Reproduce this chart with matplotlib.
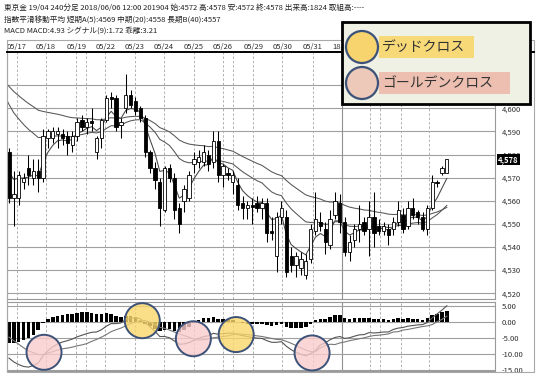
import matplotlib
matplotlib.use("Agg")
import matplotlib.pyplot as plt
import matplotlib.transforms as mtransforms
from matplotlib.patches import Rectangle, Ellipse
from matplotlib.lines import Line2D
import numpy as np

plt.rcParams['font.family'] = ['Noto Sans CJK JP', 'DejaVu Sans']

W, H = 546, 381

# ---------------- data ----------------
opens = [4581, 4561, 4561, 4568, 4574, 4570, 4573, 4570, 4587, 4587,
         4589, 4589, 4588, 4584, 4588, 4595, 4592, 4594.5, 4581, 4587,
         4595, 4605, 4604.5, 4593, 4600, 4606, 4603, 4600, 4596, 4581,
         4574, 4568, 4556, 4574, 4570, 4557, 4560, 4561, 4576, 4577,
         4577, 4580, 4577, 4586, 4571, 4572, 4568, 4567, 4559, 4557,
         4558, 4559, 4557, 4559, 4547, 4536, 4553, 4553, 4536, 4532,
         4531, 4528, 4535, 4547, 4551, 4548, 4541, 4554, 4559, 4551,
         4538, 4543, 4548, 4551, 4548, 4553, 4549, 4547, 4548, 4548,
         4551, 4554, 4549, 4557, 4555, 4553, 4548, 4557, 4568, 4572,
         4572]
highs = [4583, 4573, 4573, 4572, 4580, 4578, 4578, 4591, 4591, 4592,
         4592, 4591, 4590, 4590, 4596, 4597, 4596, 4600, 4588, 4596,
         4606, 4607, 4606, 4596, 4615, 4608, 4605, 4601, 4597, 4582,
         4577, 4570, 4575, 4576, 4572, 4559, 4567, 4573, 4581, 4582,
         4584, 4582, 4590, 4590, 4576, 4574, 4573, 4570, 4562, 4560,
         4561, 4562, 4561, 4561, 4553, 4555, 4560, 4556, 4540, 4538,
         4538, 4537, 4550, 4564, 4555, 4551, 4556, 4564, 4563, 4553,
         4545, 4550, 4558, 4553, 4560, 4564, 4552, 4551, 4550, 4553,
         4560, 4557, 4560, 4561, 4556, 4555, 4558, 4571, 4569, 4575,
         4578]
lows = [4559, 4549, 4558, 4565, 4567, 4567, 4564, 4568, 4583, 4585,
        4583, 4584, 4580, 4581, 4586, 4590, 4589, 4590, 4578, 4583,
        4594, 4600, 4590, 4587, 4598, 4600, 4597, 4594, 4579, 4572,
        4565, 4549, 4555, 4568, 4552, 4546, 4555, 4560, 4572, 4574,
        4575, 4573, 4574, 4568, 4566, 4569, 4563, 4556, 4552, 4552,
        4550, 4555, 4552, 4542, 4543, 4529, 4550, 4527, 4529, 4527,
        4528, 4526, 4533, 4545, 4547, 4537, 4539, 4552, 4546, 4536,
        4534, 4540, 4542, 4545, 4536, 4540, 4545, 4545, 4541, 4545,
        4549, 4546, 4548, 4552, 4550, 4547, 4545, 4556, 4566, 4571,
        4572]
closes = [4561, 4563, 4571, 4570, 4571, 4573, 4570, 4588, 4590, 4590,
          4590, 4587, 4585, 4588, 4594, 4592, 4594, 4593.5, 4587, 4595,
          4604.5, 4604, 4592, 4594, 4606, 4601.5, 4599, 4596, 4581, 4574,
          4569, 4557, 4574, 4570, 4556, 4550, 4565, 4571, 4578, 4579,
          4581, 4576, 4586, 4571, 4575, 4571, 4571, 4558, 4557, 4558,
          4557.5, 4557, 4559, 4546, 4546, 4553, 4557, 4529, 4532, 4536,
          4535, 4534, 4548, 4552, 4549, 4542, 4552, 4560, 4551, 4538,
          4542, 4548, 4550, 4547, 4553, 4546, 4547, 4549, 4545, 4551,
          4556, 4548, 4557, 4554, 4553, 4548, 4557, 4568, 4567.5, 4574,
          4578]

# moving-average settings and their values just before the first visible bar
ema_periods = [5, 20, 40]
ema_seeds = [4578, 4606, 4612]

# MACD line and histogram (乖離)
macd_line = [-11.3, -12.5, -13.3, -13.9, -14.1, -13.6, -12.8, -10.6, -9.0, -7.8,
             -6.9, -6.3, -5.9, -5.4, -4.7, -4.2, -3.7, -3.3, -3.2, -2.5,
             -1.4, -0.6, -0.6, -0.4, 0.6, 1.1, 1.2, 0.9, -0.3, -1.6,
             -3.0, -4.6, -4.6, -5.0, -6.0, -7.0, -6.9, -6.5, -5.8, -5.2,
             -4.6, -4.4, -3.6, -3.9, -3.7, -3.6, -3.5, -4.0, -4.3, -4.6,
             -4.9, -5.1, -5.2, -5.9, -6.4, -6.4, -6.2, -7.6, -8.7, -9.5,
             -10.1, -10.6, -9.9, -8.9, -7.2, -6.6, -5.6, -4.9, -4.6, -5.2,
             -5.0, -4.5, -4.1, -4.0, -3.4, -3.5, -3.4, -3.2, -3.2, -2.4,
             -2.0, -1.8, -1.4, -1.2, -1.0, -0.9, -0.3, 1.2, 2.4, 3.6,
             4.93]
macd_hist = [-6.5, -6.6, -6.3, -5.8, -5.0, -4.0, -2.6, -0.4, 0.8, 1.5,
             1.9, 2.1, 2.3, 2.5, 2.8, 3.0, 3.1, 2.8, 2.3, 2.3,
             2.6, 2.5, 1.9, 1.6, 1.9, 1.7, 1.3, 0.5, -0.6, -1.4,
             -2.2, -2.9, -2.5, -2.4, -2.8, -3.2, -2.6, -1.7, -0.4, 0.5,
             1.0, 1.0, 1.4, 0.9, 0.9, 0.8, 0.5, -0.2, -0.4, -0.6,
             -0.7, -0.7, -0.6, -1.0, -1.2, -0.9, -0.6, -1.5, -2.0, -2.1,
             -2.0, -1.8, -0.6, 0.4, 0.9, 0.8, 1.4, 2.2, 2.0, 1.1,
             0.9, 1.1, 1.2, 1.0, 1.2, 0.8, 0.8, 0.8, 0.6, 0.8,
             1.1, 0.8, 1.0, 0.9, 0.8, 0.6, 1.0, 2.1, 2.4, 2.9,
             3.21]

# day separators (bar-index positions) and labels
date_pos = [1.6, 7.6, 13.8, 19.8, 25.9, 31.9, 38.0, 44.0, 50.2, 56.2, 62.4, 68.5, 74.3, 80.5, 86.4]
date_labels = ["05/17", "05/18", "05/19", "05/22", "05/23", "05/24", "05/25", "05/26",
               "05/29", "05/30", "05/31", "18/06"]
extra_vlines = [15.8, 46.1, 76.3]

price_ticks = [4520, 4530, 4540, 4550, 4560, 4570, 4580, 4590, 4600, 4610]
macd_ticks = [5, 0, -5, -10, -15]
last_price = 4578

# crosses marked on the MACD panel
cross_idx = [7.2, 27.4, 37.9, 46.7, 62.3]
cross_val = [-9.5, 0.3, -5.3, -4.0, -9.7]
cross_kind = ["golden", "dead", "golden", "dead", "golden"]

header_lines = [
    "東京金 19/04 240分足 2018/06/06 12:00 201904 始:4572 高:4578 安:4572 終:4578 出来高:1824 取組高:----",
    "指数平滑移動平均 短期A(5):4569 中期(20):4558 長期B(40):4557",
    "MACD MACD:4.93 シグナル(9):1.72 乖離:3.21",
]
legend_labels = ["デッドクロス", "ゴールデンクロス"]

# ---------------- derived series ----------------
o = np.array(opens, float); h = np.array(highs, float)
l = np.array(lows, float); c = np.array(closes, float)
N = len(c)
idx = np.arange(N)
xline = np.arange(-1, N)


def ema(values, n, seed):
    a = 2.0 / (n + 1)
    e = seed
    out = [seed]
    for v in values:
        e = e + a * (v - e)
        out.append(e)
    return np.array(out)


emas = [ema(c, n, s) for n, s in zip(ema_periods, ema_seeds)]
macd = np.array(macd_line, float)
hist = np.array(macd_hist, float)
signal = macd - hist

# ---------------- figure ----------------
fig = plt.figure(figsize=(W / 100, H / 100), dpi=100)
fig.patch.set_facecolor("white")


def px(left, top, right, bottom):
    return [left / W, 1 - bottom / H, (right - left) / W, (bottom - top) / H]


def fx(x):
    return x / W


def fy(y):
    return 1 - y / H


grid_c = "#a0a0a0"
txt_c = "#2e2e2e"
fs_small = 5.5

ax = fig.add_axes(px(7, 52, 495, 299))
axm = fig.add_axes(px(7, 302, 495, 371), sharex=ax)
axd = fig.add_axes(px(7, 40, 495, 52), sharex=ax)

ax.set_xlim(-0.41, 99.9)
ax.set_ylim(4517.5, 4624.4)
axm.set_ylim(-15.3, 6.1)

# ---- main price panel
for yv in price_ticks:
    ax.axhline(yv, color=grid_c, lw=0.8, zorder=0)
for xv in date_pos + extra_vlines:
    ax.axvline(xv, color="#b0b0b0", lw=0.7, ls=(0, (2.5, 2)), zorder=0)
    axm.axvline(xv, color="#b0b0b0", lw=0.7, ls=(0, (2.5, 2)), zorder=0)
ax.axvline(date_pos[11], color="#909090", lw=0.8, zorder=0)
axm.axvline(date_pos[11], color="#909090", lw=0.8, zorder=0)

for e, col in zip(emas, ["#444444", "#555555", "#555555"]):
    ax.plot(xline, e, color=col, lw=0.75, zorder=2)

ax.vlines(idx, l, h, color="black", lw=0.75, zorder=3)
up = c >= o
body_bottom = np.minimum(o, c)
body_h = np.maximum(np.abs(c - o), 0.45)
ax.bar(idx, body_h, bottom=body_bottom, width=0.68,
       color=np.where(up, "white", "black"), edgecolor="black",
       linewidth=0.6, zorder=4)

ax.yaxis.tick_right()
ax.set_yticks(price_ticks)
ax.set_yticklabels([f"{v:,}" for v in price_ticks])
ax.tick_params(axis="y", length=0, pad=5, labelsize=fs_small, labelcolor=txt_c)
ax.tick_params(axis="x", bottom=False, labelbottom=False)
for s in ["left", "right", "bottom"]:
    ax.spines[s].set_color("#999999")
    ax.spines[s].set_linewidth(0.8)
ax.spines["top"].set_visible(False)

tr = mtransforms.blended_transform_factory(ax.transAxes, ax.transData)
ax.text(1.0 + 3 / 488, last_price, f"{last_price:,}", transform=tr, ha="left",
        va="center", color="white", fontsize=fs_small, fontweight="bold",
        bbox=dict(boxstyle="square,pad=0.15", fc="black", ec="none"), zorder=6)

# ---- MACD panel
for yv in macd_ticks:
    axm.axhline(yv, color=grid_c, lw=0.8, zorder=0)
axm.bar(idx, hist, width=0.72, color="black", zorder=2)
axm.plot(idx, macd, color="#555555", lw=0.8, zorder=3)
axm.plot(idx, signal, color="#777777", lw=0.8, zorder=3)

face = {"golden": (0.98, 0.80, 0.80, 0.8), "dead": (0.98, 0.84, 0.42, 0.8)}
size_pt = 35 * 72 / 100
axm.scatter(cross_idx, cross_val, s=size_pt ** 2,
            facecolors=[face[k] for k in cross_kind],
            edgecolors="#3D5278", linewidths=1.4, zorder=5, clip_on=False)

axm.yaxis.tick_right()
axm.set_yticks(macd_ticks)
axm.set_yticklabels([f"{v:.2f}" for v in macd_ticks])
axm.tick_params(axis="y", length=0, pad=5, labelsize=fs_small, labelcolor=txt_c)
axm.tick_params(axis="x", bottom=False, labelbottom=False)
for s in axm.spines.values():
    s.set_color("#999999")
    s.set_linewidth(0.8)

# ---- date strip
axd.set_ylim(0, 1)
axd.set_yticks([])
axd.tick_params(axis="x", bottom=False, labelbottom=False)
for s in axd.spines.values():
    s.set_visible(False)
trd = mtransforms.blended_transform_factory(axd.transData, axd.transAxes)
for p, lab in zip(date_pos, date_labels):
    axd.text(p, 0.45, lab, transform=trd, ha="center", va="center",
             fontsize=fs_small, color=txt_c)

# ---- frame lines
fig.add_artist(Rectangle((fx(7), fy(372)), fx(534) - fx(7), fy(40) - fy(372),
                         transform=fig.transFigure, fill=False, ec="#a8a8a8", lw=0.8, zorder=3))
fig.add_artist(Line2D([fx(7), fx(534)], [fy(52), fy(52)], transform=fig.transFigure,
                      color="black", lw=1.4, zorder=3))

# ---- header
for k, line in enumerate(header_lines):
    fig.text(fx(4), fy(8 + 11.5 * k), line, fontsize=5.5, color="#222222",
             ha="left", va="center")

# ---- legend box
fig.add_artist(Rectangle((fx(342), fy(104)), fx(530) - fx(342), fy(22) - fy(104),
                         transform=fig.transFigure, fc="#EEF1E3", ec="black", lw=2.0, zorder=10))
leg_cols = [(0.97, 0.83, 0.43), (0.93, 0.79, 0.73)]
txt_bg = [(0.97, 0.85, 0.47), (0.93, 0.75, 0.69)]
leg_y = [47, 83]
bg_right = [474, 510]
r = 16
for k in range(2):
    fig.add_artist(Rectangle((fx(379), fy(leg_y[k] + 11)), fx(bg_right[k]) - fx(379), 22 / H,
                             transform=fig.transFigure, fc=txt_bg[k], ec="none", zorder=11))
    fig.add_artist(Ellipse((fx(362), fy(leg_y[k])), 2 * r / W, 2 * r / H,
                           transform=fig.transFigure, fc=leg_cols[k], ec="#3D5278", lw=1.6, zorder=12))
    fig.text(fx(382), fy(leg_y[k]), legend_labels[k], fontsize=10, color="#333333",
             ha="left", va="center", zorder=13)

fig.savefig("out.png", dpi=100)
